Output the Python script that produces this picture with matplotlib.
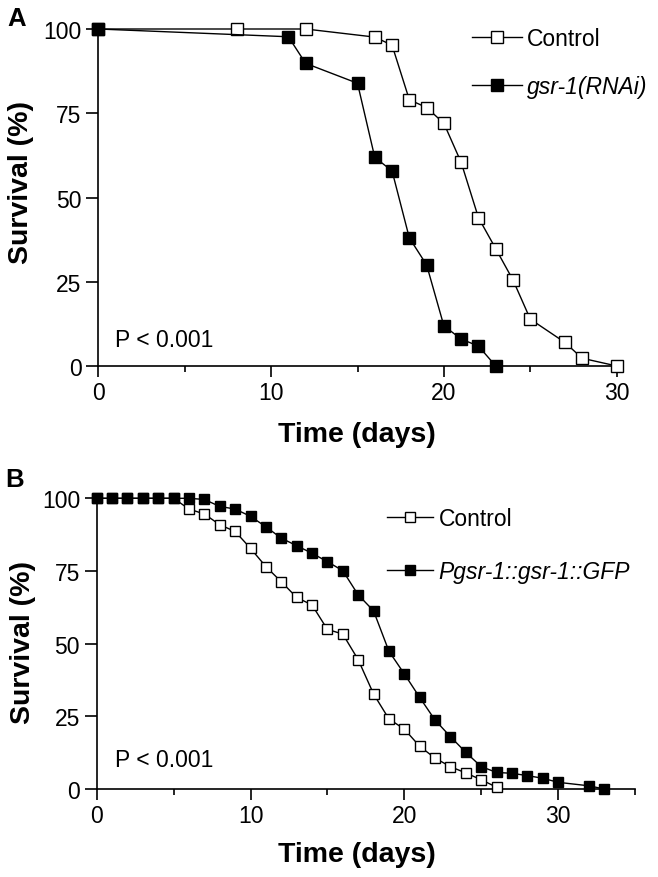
import matplotlib
matplotlib.use("Agg")
import matplotlib.pyplot as plt
from matplotlib.ticker import MultipleLocator

plt.rcParams['font.family'] = ['Liberation Sans', 'DejaVu Sans']

# ---------- Panel A data ----------
a_ctrl_days = [0, 8, 12, 16, 17, 18, 19, 20, 21, 22, 23, 24, 25, 27, 28, 30]
a_ctrl_surv = [100, 100, 100, 97.6, 95.2, 79.0, 76.7, 72.0, 60.4, 44.0, 34.8, 25.5, 13.9, 7.0, 2.3, 0]
a_rnai_days = [0, 11, 12, 15, 16, 17, 18, 19, 20, 21, 22, 23]
a_rnai_surv = [100, 97.7, 89.8, 83.9, 61.9, 57.9, 38.0, 30.0, 11.9, 8.0, 5.9, 0]
a_labels = ['Control', 'gsr-1(RNAi)']

# ---------- Panel B data ----------
b_ctrl_days = [0, 1, 2, 3, 4, 5, 6, 7, 8, 9, 10, 11, 12, 13, 14, 15, 16, 17, 18, 19, 20,
               21, 22, 23, 24, 25, 26]
b_ctrl_surv = [100, 100, 100, 100, 100, 100, 96.3, 94.6, 90.9, 88.6, 82.8, 76.5, 71.3, 65.9,
               63.3, 54.9, 53.3, 44.5, 32.7, 24.1, 20.6, 14.7, 10.6, 7.7, 5.5, 3.2, 0.6]
b_gfp_days = [0, 1, 2, 3, 4, 5, 6, 7, 8, 9, 10, 11, 12, 13, 14, 15, 16, 17, 18, 19, 20,
              21, 22, 23, 24, 25, 26, 27, 28, 29, 30, 32, 33]
b_gfp_surv = [100, 100, 100, 100, 100, 100, 100, 99.6, 97.2, 96.3, 93.8, 90.2, 86.3, 83.7,
              81.1, 78.2, 75.1, 66.8, 61.3, 47.4, 39.6, 31.5, 23.7, 18.0, 12.6, 7.7, 5.7,
              5.4, 4.6, 3.7, 2.3, 1.1, 0]
b_labels = ['Control', 'Pgsr-1::gsr-1::GFP']

y_ticks = [0, 25, 50, 75, 100]

W, H = 658, 878
fig = plt.figure(figsize=(W / 100, H / 100), dpi=100)

def fx(px):
    return px / W

def fy(py):
    return 1 - py / H

TICK_FS = 16.5
LAB_FS = 20.5
LET_FS = 18.5

def style_axes(ax, xmax, xmajor):
    for s in ['top', 'right']:
        ax.spines[s].set_visible(False)
    for s in ['left', 'bottom']:
        ax.spines[s].set_linewidth(1.2)
    ax.set_ylim(0, 100)
    ax.set_xlim(0, xmax)
    ax.set_yticks(y_ticks)
    ax.xaxis.set_major_locator(MultipleLocator(xmajor))
    ax.xaxis.set_minor_locator(MultipleLocator(xmajor / 2))
    ax.tick_params(axis='both', which='major', direction='out', width=1.2,
                   labelsize=TICK_FS, pad=3)
    ax.tick_params(axis='y', which='major', length=9)
    ax.tick_params(axis='x', which='major', length=8)
    ax.tick_params(axis='x', which='minor', length=4, width=1.2)

# ---------- Panel A ----------
axA = fig.add_axes([fx(98.3), fy(367), fx(616.7 - 98.3), (367 - 30) / H])
style_axes(axA, 30, 10)
axA.plot(a_ctrl_days, a_ctrl_surv, '-s', color='black', lw=1.0, ms=8,
         mfc='white', mec='black', mew=1.0, clip_on=False, zorder=3, label=a_labels[0])
axA.plot(a_rnai_days, a_rnai_surv, '-s', color='black', lw=1.0, ms=8,
         mfc='black', mec='black', mew=1.0, clip_on=False, zorder=4, label=a_labels[1])
legA = axA.legend(loc='upper left', bbox_to_anchor=(fx(472), fy(28)),
                  bbox_transform=fig.transFigure, frameon=False, fontsize=TICK_FS,
                  handlelength=2.18, handletextpad=0.22, labelspacing=1.08, borderpad=0,
                  borderaxespad=0)
legA.get_texts()[1].set_style('italic')
fig.text(fx(115), fy(347), 'P < 0.001', fontsize=TICK_FS, ha='left', va='baseline')
fig.text(fx(7), fy(26), 'A', fontsize=LET_FS, fontweight='bold', ha='left', va='baseline')
fig.text(fx(21), fy(182), 'Survival (%)', fontsize=LAB_FS, fontweight='bold',
         rotation=90, ha='center', va='center')
fig.text(fx(357), fy(435), 'Time (days)', fontsize=LAB_FS, fontweight='bold',
         ha='center', va='center')

# ---------- Panel B ----------
axB = fig.add_axes([fx(96.7), fy(790), fx(635 - 96.7), (790 - 499.3) / H])
style_axes(axB, 35, 10)
axB.plot(b_ctrl_days, b_ctrl_surv, '-s', color='black', lw=1.0, ms=7.2,
         mfc='white', mec='black', mew=1.0, clip_on=False, zorder=3, label=b_labels[0])
axB.plot(b_gfp_days, b_gfp_surv, '-s', color='black', lw=1.0, ms=7.2,
         mfc='black', mec='black', mew=1.0, clip_on=False, zorder=4, label=b_labels[1])
legB = axB.legend(loc='upper left', bbox_to_anchor=(fx(387), fy(508)),
                  bbox_transform=fig.transFigure, frameon=False, fontsize=TICK_FS,
                  handlelength=2.0, handletextpad=0.25, labelspacing=1.3, borderpad=0,
                  borderaxespad=0)
legB.get_texts()[1].set_style('italic')
fig.text(fx(115), fy(767), 'P < 0.001', fontsize=TICK_FS, ha='left', va='baseline')
fig.text(fx(5), fy(487), 'B', fontsize=LET_FS, fontweight='bold', ha='left', va='baseline')
fig.text(fx(23), fy(643), 'Survival (%)', fontsize=LAB_FS, fontweight='bold',
         rotation=90, ha='center', va='center')
fig.text(fx(357), fy(855), 'Time (days)', fontsize=LAB_FS, fontweight='bold',
         ha='center', va='center')

fig.savefig('out.png', dpi=100)
